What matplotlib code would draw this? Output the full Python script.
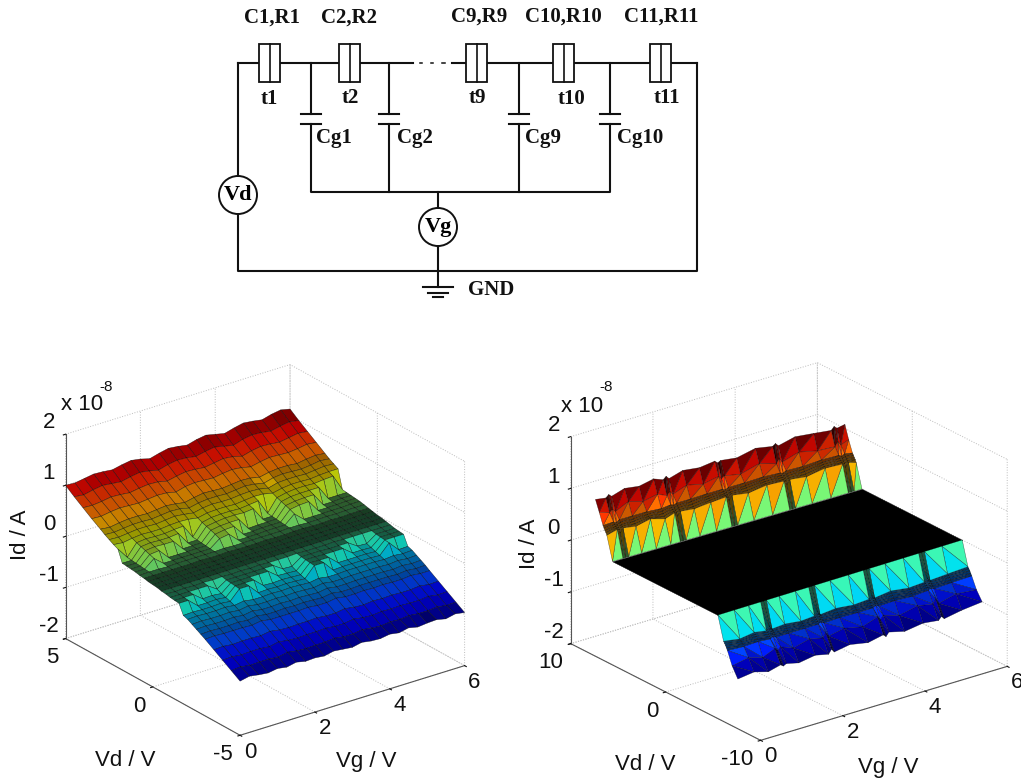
import numpy as np
import matplotlib
matplotlib.use('Agg')
import matplotlib.pyplot as plt
import matplotlib.tri as mtri
from matplotlib.patches import Rectangle, Circle
from mpl_toolkits.mplot3d.art3d import Poly3DCollection

plt.rcParams['font.family'] = ['Liberation Sans', 'DejaVu Sans']
plt.rcParams['axes.unicode_minus'] = False

# left surface, Id in units of 1e-10 A
vg_left = [0, .25, .5, .75, 1, 1.25, 1.5, 1.75, 2, 2.25, 2.5, 2.75, 3, 3.25, 3.5, 3.75, 4, 4.25, 4.5, 4.75, 5, 5.25, 5.5, 5.75, 6]
vd_left = [5, 4.5, 4, 3.5, 3, 2.75, 2.5, 2.25, 2, 1.75, 1.5, 1.25, 1, .75, .5, .25, 0,
           -.25, -.5, -.75, -1, -1.25, -1.5, -1.75, -2, -2.25, -2.5, -2.75, -3, -3.5, -4, -4.5, -5]
id_left = [
    [100,99,102,105,104,102,106,109,106,101,106,110,108,105,110,113,109,105,110,114,112,109,114,117,113],
    [87,85,89,92,90,88,92,95,92,88,93,96,95,92,96,99,95,91,97,100,99,96,100,103,100],
    [75,74,76,79,78,76,79,81,80,76,80,83,82,80,83,86,84,79,84,87,86,84,87,90,88],
    [63,62,65,67,66,65,67,69,68,64,69,71,70,69,72,74,72,68,72,75,74,73,75,78,76],
    [52,50,53,55,55,54,56,58,56,53,57,60,59,58,60,62,61,57,61,63,63,61,64,66,64],
    [46,45,47,49,49,48,50,52,51,47,51,53,53,52,54,56,54,50,55,57,56,55,57,60,58],
    [41,40,42,44,44,43,45,47,45,42,46,48,47,47,49,50,49,45,50,51,51,50,52,54,53],
    [36,34,37,39,38,38,40,41,40,37,41,42,42,41,43,45,44,40,44,46,46,45,47,48,48],
    [32,10,33,35,34,34,36,37,10,33,37,38,38,37,39,41,11,36,40,42,42,41,43,44,12],
    [9,9,30,32,31,31,33,9,9,30,33,35,35,34,36,10,10,33,37,38,38,38,11,11,11],
    [8,8,27,29,28,28,8,8,8,27,30,31,31,8,9,9,9,30,33,34,34,9,9,10,10],
    [7,7,24,26,7,7,7,7,7,24,27,28,7,7,8,8,8,27,30,31,8,8,8,9,9],
    [6,6,21,6,6,6,6,6,6,20,23,6,6,6,7,7,7,23,7,7,7,7,7,8,8],
    [4,5,5,4,5,5,5,5,5,6,5,5,5,5,5,5,6,6,5,5,6,5,6,6,6],
    [3,3,3,3,3,3,4,3,3,4,3,3,3,4,3,3,4,4,3,3,4,3,4,4,4],
    [1,2,1,1,2,1,2,1,1,2,1,2,1,2,1,2,2,2,1,2,2,1,2,2,2],
    [0,0,0,0,0,0,0,0,0,0,0,0,0,0,0,0,0,0,0,0,0,0,0,0,0],
    [-1,-1,-2,-1,-1,-2,-1,-1,-2,-1,-1,-2,-1,-1,-2,-1,-1,-2,-1,-1,-2,-1,-1,-2,-1],
    [-3,-3,-3,-3,-3,-3,-3,-3,-3,-3,-3,-3,-3,-3,-3,-3,-3,-3,-3,-3,-3,-3,-3,-3,-3],
    [-4,-5,-4,-5,-4,-5,-4,-5,-4,-5,-4,-5,-5,-5,-4,-5,-5,-5,-4,-5,-5,-5,-5,-5,-5],
    [-6,-6,-6,-6,-6,-18,-6,-6,-6,-6,-6,-6,-18,-19,-6,-6,-6,-7,-7,-7,-19,-20,-7,-7,-7],
    [-7,-7,-7,-21,-20,-22,-7,-7,-7,-7,-7,-21,-22,-23,-7,-7,-8,-8,-8,-22,-22,-23,-8,-8,-8],
    [-8,-8,-24,-24,-23,-25,-8,-8,-8,-24,-25,-24,-25,-26,-8,-9,-9,-25,-25,-25,-25,-26,-9,-9,-9],
    [-27,-26,-27,-27,-26,-28,-9,-9,-28,-27,-28,-27,-28,-29,-9,-9,-29,-28,-28,-28,-28,-29,-10,-29,-28],
    [-30,-29,-30,-30,-29,-31,-28,-31,-31,-30,-31,-30,-31,-32,-29,-32,-32,-31,-31,-31,-31,-32,-30,-32,-31],
    [-35,-34,-35,-35,-34,-36,-33,-36,-36,-35,-36,-35,-36,-37,-34,-37,-37,-36,-36,-36,-36,-37,-35,-37,-36],
    [-40,-39,-40,-40,-39,-41,-38,-41,-41,-40,-41,-40,-41,-42,-39,-42,-42,-41,-41,-41,-41,-42,-40,-42,-41],
    [-45,-44,-45,-45,-44,-46,-43,-46,-46,-45,-46,-45,-46,-47,-44,-47,-47,-46,-46,-46,-46,-47,-45,-47,-46],
    [-50,-49,-50,-50,-50,-51,-48,-51,-51,-51,-51,-50,-52,-52,-49,-52,-52,-51,-52,-51,-52,-52,-50,-52,-52],
    [-61,-60,-62,-61,-61,-62,-59,-62,-63,-62,-62,-61,-63,-63,-60,-63,-64,-62,-63,-62,-63,-63,-61,-64,-63],
    [-72,-71,-73,-72,-72,-74,-70,-73,-74,-73,-73,-72,-74,-74,-71,-74,-75,-73,-74,-73,-74,-74,-72,-75,-74],
    [-83,-81,-84,-83,-83,-85,-81,-84,-85,-84,-84,-82,-85,-85,-82,-85,-86,-84,-85,-83,-85,-85,-83,-86,-85],
    [-94,-90,-93,-95,-92,-95,-91,-95,-94,-96,-92,-94,-96,-92,-95,-96,-93,-96,-92,-96,-94,-93,-97,-93,-96],
]

# right surface, two walls either side of the flat zero region
vg_up = [0,.25,.32,.39,.7,1.05,1.4,1.63,1.7,1.77,2.1,2.5,2.87,2.94,3.01,3.4,3.85,4.26,4.33,4.4,4.8,5.25,5.67,5.74,5.81,6]
vd_up = [5.6, 6.2, 6.3, 6.4, 6.5, 6.6, 7.0, 7.4]
id_up = [
    [0]*26,
    [45,50,42,50,46,52,44,50,42,50,47,50,52,44,52,47,52,50,42,50,46,52,50,42,50,45],
    [49,52,47,52,50,53,48,52,47,52,50,53,54,48,54,51,54,52,48,52,50,54,52,48,52,50],
    [52,54,50,54,54,55,52,55,51,55,54,56,56,52,56,55,57,55,52,55,54,57,55,52,55,53],
    [56,57,54,58,57,58,56,58,55,58,58,59,59,56,59,58,60,58,56,58,58,60,58,56,59,57],
    [60,61,58,62,62,62,60,62,60,62,62,63,63,60,63,63,64,62,60,63,62,64,63,60,63,60],
    [82,75,80,74,86,78,84,76,82,75,85,78,84,78,82,76,86,76,84,76,86,78,76,84,76,82],
    [103,100,105,100,108,104,110,103,108,102,110,106,110,105,108,104,112,106,110,104,112,108,104,110,105,108],
]
vg_lo = [0,.4,.75,1.05,1.12,1.19,1.5,1.9,2.23,2.3,2.37,2.75,3.2,3.57,3.64,3.71,4.1,4.55,4.93,5,5.07,5.5,6]
vd_lo = [-5.5, -6.1, -6.2, -6.3, -6.4, -6.5, -7.0, -7.6]
id_lo = [
    [0]*23,
    [-45,-50,-46,-50,-43,-50,-48,-52,-50,-43,-51,-48,-52,-50,-44,-51,-47,-52,-50,-44,-50,-48,-46],
    [-48,-52,-49,-52,-47,-52,-51,-53,-52,-47,-52,-50,-54,-52,-48,-53,-50,-54,-52,-48,-52,-50,-49],
    [-51,-54,-52,-55,-51,-55,-54,-55,-55,-51,-55,-54,-56,-55,-52,-56,-54,-57,-55,-52,-55,-53,-52],
    [-55,-57,-56,-58,-55,-58,-58,-58,-58,-55,-59,-58,-59,-59,-56,-59,-58,-60,-58,-56,-58,-57,-56],
    [-59,-61,-60,-62,-59,-62,-62,-62,-62,-60,-63,-62,-63,-63,-60,-63,-62,-64,-62,-60,-62,-61,-60],
    [-84,-78,-86,-76,-82,-76,-86,-78,-84,-76,-84,-78,-86,-76,-84,-76,-86,-78,-84,-76,-86,-78,-82],
    [-104,-100,-108,-102,-106,-103,-109,-104,-110,-102,-109,-104,-111,-105,-110,-103,-111,-106,-110,-104,-110,-104,-100],
]

W, H = 1021, 780
fig = plt.figure(figsize=(W / 100, H / 100), dpi=100)
jet = matplotlib.colormaps['jet']


def setup_axes(left, top, size, aspect, elev, azim, vd_max, vd_ticks):
    ax = fig.add_axes([left / W, 1 - (top + size) / H, size / W, size / H], projection='3d')
    ax.set_proj_type('ortho')
    ax.set_box_aspect(aspect)
    ax.view_init(elev=elev, azim=azim)
    ax.set_xlim(0, 6, view_margin=0)
    ax.set_ylim(-vd_max, vd_max, view_margin=0)
    ax.set_zlim(-2, 2, view_margin=0)
    ax.set_xticks([0, 2, 4, 6])
    ax.set_yticks(vd_ticks)
    ax.set_zticks([-2, -1, 0, 1, 2])
    ax.patch.set_alpha(0)
    for axis in (ax.xaxis, ax.yaxis, ax.zaxis):
        axis.set_pane_color((1, 1, 1, 0))
        axis.pane.set_edgecolor('#c8c8c8')
        axis.line.set_color('#555555')
        axis.line.set_linewidth(0.8)
        axis._axinfo['grid'].update(color='#bcbcbc', linestyle=':', linewidth=0.7)
        axis._axinfo['tick'].update(inward_factor=0.12, outward_factor=0.0)
    ax.tick_params(labelsize=16, colors='#111111')
    ax.tick_params(axis='x', pad=-4.5)
    ax.tick_params(axis='y', pad=-2.5)
    ax.tick_params(axis='z', pad=-1)
    plt.setp(ax.get_xticklabels(), ha='left')
    plt.setp(ax.get_yticklabels(), ha='right')
    plt.setp(ax.get_zticklabels(), va='bottom')
    return ax


# left panel
ax1 = setup_axes(34.5, 331.5, 449, (281, 292, 225), 24.5, -126.8, 5, [-5, 0, 5])
X, Y = np.meshgrid(vg_left, vd_left)
Z = np.array(id_left) / 100
corners = np.stack([Z[:-1, :-1], Z[1:, :-1], Z[:-1, 1:], Z[1:, 1:]])
cell = corners.mean(axis=0)
spread = corners.max(axis=0) - corners.min(axis=0)
colors = jet((cell + 0.98) / 2.13)
# dense mesh in the original darkens flat parts, steep parts stay bright
k = np.where(spread > 0.1, 0.78, 0.62)
k = np.where((np.abs(cell) < 0.13) & (spread <= 0.1), 0.36, k)
k = np.where(np.abs(cell) < 0.035, 0.24, k)
colors[..., :3] *= k[..., None]
ax1.plot_surface(X, Y, Z, rstride=1, cstride=1, facecolors=colors, shade=False,
                 edgecolor=(0, 0, 0, 0.7), linewidth=0.35)

# right panel
ax2 = setup_axes(542.5, 318, 480, (311, 312, 225), 23, -127.5, 10, [-10, 0, 10])
X_up, Y_up = np.meshgrid(vg_up, vd_up)
Y_up = Y_up - 0.05 * X_up
X_lo, Y_lo = np.meshgrid(vg_lo, vd_lo)
Y_lo = Y_lo + 0.04 * X_lo


def add_wall(ax, xx, yy, zz, stat):
    x, y, z = xx.ravel(), yy.ravel(), np.array(zz).ravel() / 100
    tri = mtri.Triangulation(x, y).triangles
    verts = np.dstack([x[tri], y[tri], z[tri]])
    cols = jet((stat(z[tri], axis=1) + 1.07) / 2.14)
    # narrow slivers and the thin band rows come out dark from mesh lines
    spread_t = z[tri].max(axis=1) - z[tri].min(axis=1)
    dark = np.ones(len(tri))
    dark[spread_t > 0.3] = 0.97
    dark[np.abs(z[tri]).min(axis=1) > 0.6] = 0.8
    dark[(np.abs(z[tri]).max(axis=1) < 0.66) & (np.abs(z[tri]).min(axis=1) > 0.4)] = 0.42
    dark[(x[tri].max(axis=1) - x[tri].min(axis=1) < 0.1) & (spread_t > 0.3)] = 0.35
    cols[:, :3] *= dark[:, None]
    ax.add_collection3d(Poly3DCollection(verts, facecolors=cols, edgecolors=(0, 0, 0, 0.55), linewidths=0.35))


add_wall(ax2, X_up, Y_up, id_up, np.median)
add_wall(ax2, X_lo, Y_lo, id_lo, np.mean)
flat_x, flat_y = np.meshgrid([0, 6], [-5.5, 5.6])
flat_y = flat_y + np.array([[0, 0.24], [0, -0.3]])
ax2.plot_surface(flat_x, flat_y, np.zeros((2, 2)), color='k', shade=False, edgecolor='k', linewidth=0.3)

# overlay in pixel coordinates for the circuit and free labels
ov = fig.add_axes([0, 0, 1, 1], zorder=10)
ov.set_xlim(0, W)
ov.set_ylim(H, 0)
ov.axis('off')
ov.patch.set_alpha(0)

WIRE = dict(color='#111111', lw=1.5, solid_capstyle='projecting')
wires = [
    ([238, 238], [195, 63]), ([238, 413], [63, 63]), ([452, 697], [63, 63]),
    ([697, 697, 238, 238], [63, 271, 271, 195]),
    ([311, 311, 610, 610], [124, 192, 192, 124]), ([389, 389], [124, 192]), ([519, 519], [124, 192]),
    ([438, 438], [192, 247]), ([438, 438], [247, 287]),
]
for xs, ys in wires:
    ov.plot(xs, ys, **WIRE)
for x0, x1 in [(420, 422), (431, 433), (442, 445)]:
    ov.plot([x0, x1], [63, 63], color='#111111', lw=1.1)

junction_x = [259, 339, 466, 553, 650]
for x0 in junction_x:
    ov.add_patch(Rectangle((x0, 44), 21, 38, fc='white', ec='#111111', lw=1.3, zorder=3))
    ov.plot([x0 + 10.5, x0 + 10.5], [44, 82], color='#111111', lw=1.2, zorder=4)

for x0 in [311, 389, 519, 610]:
    ov.plot([x0, x0], [63, 114], **WIRE)
    ov.plot([x0 - 10, x0 + 10], [114, 114], color='#111111', lw=1.5)
    ov.plot([x0 - 10, x0 + 10], [124, 124], color='#111111', lw=1.5)

for cx, cy, name in [(238, 195, 'Vd'), (438, 227, 'Vg')]:
    ov.add_patch(Circle((cx, cy), 19, fc='white', ec='#111111', lw=1.4, zorder=3))
    ov.text(cx, cy, name, ha='center', va='center', family='Liberation Serif', weight='bold', fontsize=16, zorder=4)

for half, y0 in [(15, 287), (10, 293), (5, 297)]:
    ov.plot([438 - half, 438 + half], [y0, y0], color='#111111', lw=1.5)

SERIF = dict(family='Liberation Serif', weight='bold', fontsize=15, color='#111111', va='center')
for s, x0, y0 in [('C1,R1', 272, 18), ('C2,R2', 349, 18), ('C9,R9', 479, 17), ('C10,R10', 563, 17), ('C11,R11', 661, 17),
                  ('t1', 269, 99), ('t2', 350, 98), ('t9', 477, 98), ('t10', 571, 99), ('t11', 667, 98)]:
    ov.text(x0, y0, s, ha='center', **SERIF)
for s, x0 in [('Cg1', 316), ('Cg2', 397), ('Cg9', 525), ('Cg10', 617)]:
    ov.text(x0, 138, s, ha='left', **SERIF)
ov.text(468, 290, 'GND', ha='left', **SERIF)

SANS = dict(fontsize=16, color='#111111', ha='center', va='center')
for vd_pos, vg_pos, id_pos, x10, sup in [((125, 760), (366, 762), (20, 535), (82, 405), (106, 387)),
                                        ((645, 765), (888, 767), (529, 544), (582, 406), (606, 387))]:
    ov.text(*vd_pos, 'Vd / V', **SANS)
    ov.text(*vg_pos, 'Vg / V', **SANS)
    ov.text(*id_pos, 'Id / A', rotation=90, **SANS)
    ov.text(*x10, 'x 10', **SANS)
    ov.text(*sup, '-8', fontsize=11, color='#111111', ha='center', va='center')

fig.savefig('out.png', dpi=100)
